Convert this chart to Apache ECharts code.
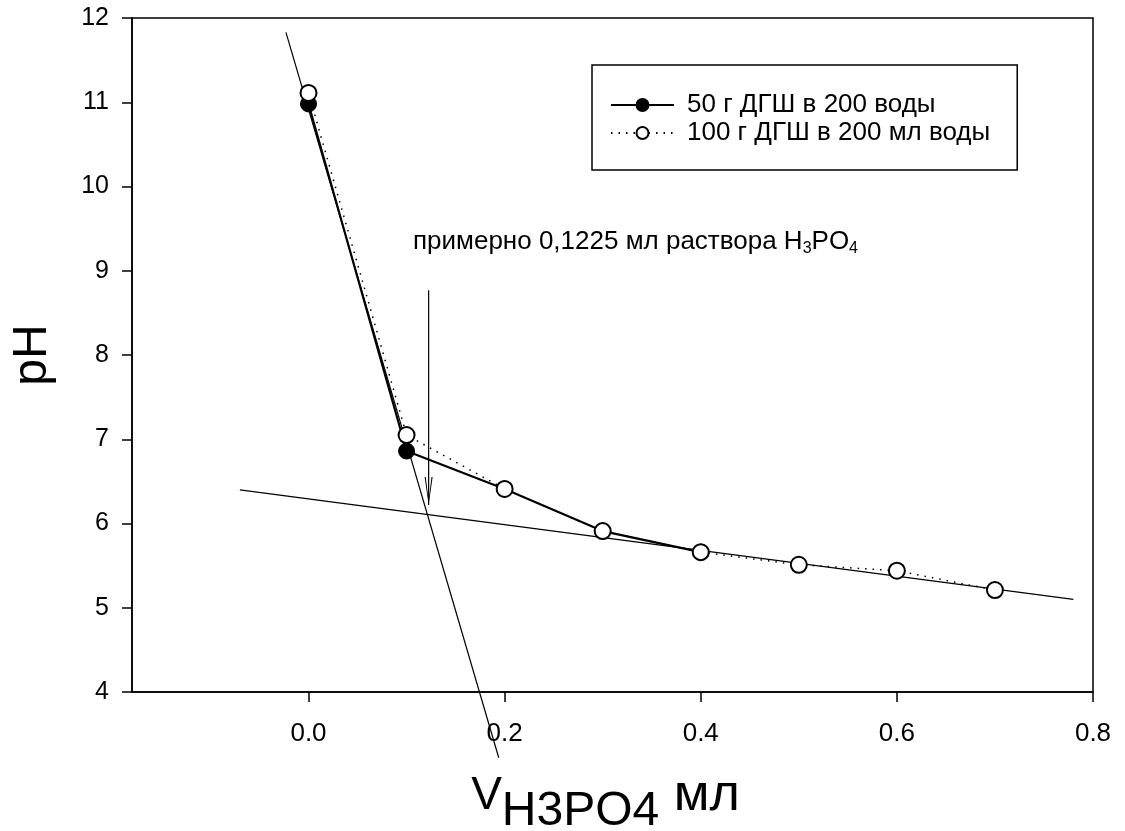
<!DOCTYPE html>
<html>
<head>
<meta charset="utf-8">
<script src="https://cdn.jsdelivr.net/npm/echarts@6/dist/echarts.min.js"></script>
<style>
  html, body { margin: 0; padding: 0; background: #fff; }
  #chart { width: 1125px; height: 831px; }
</style>
</head>
<body>
<div id="chart"></div>
<script>
// объём H3PO4, мл
const volumes = [0, 0.1, 0.2, 0.3, 0.4, 0.5, 0.6, 0.7];
// pH для 50 г ДГШ (точки до 0.4 мл)
const ph50 = [10.98, 6.86, 6.41, 5.91, 5.66];
// pH для 100 г ДГШ
const ph100 = [11.11, 7.05, 6.41, 5.91, 5.66, 5.51, 5.44, 5.21];
// касательные
const steepLine = [[-0.023, 11.83], [0.194, 3.22]];
const flatLine = [[-0.070, 6.40], [0.780, 5.10]];
// стрелка на 0,1225 мл
const arrowX = 0.1225;
const arrowY = [8.77, 6.22];
const xTicks = [0, 0.2, 0.4, 0.6, 0.8];
const names = ['50 г ДГШ в 200 воды', '100 г ДГШ в 200 мл воды'];

const FONT = "'Liberation Sans', Arial, sans-serif";
// открытый наконечник стрелки (тонкая галочка)
const ARROW_HEAD = 'path://M0,0 L5,28 L10,0 L8.6,0 L5,23 L1.4,0 Z';

const chart = echarts.init(document.getElementById('chart'));

const option = {
  backgroundColor: '#fff',
  animation: false,
  textStyle: { fontFamily: FONT, color: '#000' },
  grid: {
    left: 132, right: 32, top: 18, bottom: 139,
    containLabel: false,
    outerBoundsMode: 'none',
    show: true,
    borderColor: '#000',
    borderWidth: 1.5
  },
  legend: {
    data: names,
    orient: 'vertical',
    left: 592,
    top: 65,
    padding: [27, 27, 24, 18],
    itemWidth: 63,
    itemHeight: 15,
    itemGap: 2,
    borderColor: '#000',
    borderWidth: 1.5,
    textStyle: { fontSize: 26, color: '#000', fontFamily: FONT, padding: [0, 0, 0, 8] }
  },
  xAxis: {
    type: 'value',
    min: -0.18,
    max: 0.8,
    name: '{v|V}{s|H3PO4}{m| мл}',
    nameLocation: 'middle',
    nameGap: 78,
    nameTextStyle: {
      rich: {
        v: { fontSize: 46, lineHeight: 52, fontFamily: FONT, color: '#000' },
        s: { fontSize: 48, lineHeight: 52, padding: [32, 0, 0, 0], fontFamily: FONT, color: '#000' },
        m: { fontSize: 52, lineHeight: 52, padding: [0, 14, 0, 0], fontFamily: FONT, color: '#000' }
      }
    },
    splitLine: { show: false },
    axisLine: { onZero: false, lineStyle: { color: '#000', width: 1.5 } },
    axisTick: { customValues: xTicks, inside: false, length: 10, lineStyle: { color: '#000', width: 1.5 } },
    axisLabel: {
      customValues: xTicks,
      margin: 29,
      fontSize: 26,
      color: '#000',
      fontFamily: FONT,
      formatter: v => v.toFixed(1)
    }
  },
  yAxis: {
    type: 'value',
    min: 4,
    max: 12,
    interval: 1,
    name: 'pH',
    nameLocation: 'middle',
    nameRotate: 90,
    nameGap: 75,
    nameTextStyle: { fontSize: 48, color: '#000', fontFamily: FONT },
    splitLine: { show: false },
    axisLine: { onZero: false, lineStyle: { color: '#000', width: 1.5 } },
    axisTick: { inside: false, length: 10, lineStyle: { color: '#000', width: 1.5 } },
    axisLabel: { margin: 23, fontSize: 25, color: '#000', fontFamily: FONT }
  },
  graphic: [{
    type: 'text',
    left: 413,
    top: 229,
    style: {
      text: '{a|примерно 0,1225 мл раствора H}{s|3}{a|PO}{s|4}',
      rich: {
        a: { fontSize: 26, lineHeight: 30, fontFamily: FONT, fill: '#000' },
        s: { fontSize: 16, lineHeight: 16, verticalAlign: 'bottom', fontFamily: FONT, fill: '#000' }
      }
    }
  }],
  series: [
    {
      type: 'line',
      data: steepLine,
      clip: false,
      symbol: 'none',
      silent: true,
      lineStyle: { color: '#000', width: 1.2 },
      z: 1
    },
    {
      type: 'line',
      data: flatLine,
      clip: false,
      symbol: 'none',
      silent: true,
      lineStyle: { color: '#000', width: 1.2 },
      z: 1
    },
    {
      type: 'line',
      data: [
        { value: [arrowX, arrowY[0]], symbol: 'none' },
        { value: [arrowX, arrowY[1]], symbol: ARROW_HEAD, symbolSize: [8, 28], symbolOffset: [0, '-50%'] }
      ],
      showSymbol: true,
      silent: true,
      itemStyle: { color: '#000' },
      lineStyle: { color: '#000', width: 1.2 },
      z: 1
    },
    {
      name: names[0],
      type: 'line',
      data: ph50.map((v, i) => [volumes[i], v]),
      symbol: 'circle',
      symbolSize: 16,
      itemStyle: { color: '#000', borderColor: '#000', borderWidth: 1 },
      lineStyle: { color: '#000', width: 2.2 },
      z: 3
    },
    {
      name: names[1],
      type: 'line',
      data: ph100.map((v, i) => [volumes[i], v]),
      symbol: 'circle',
      symbolSize: 16,
      itemStyle: { color: '#fff', borderColor: '#000', borderWidth: 2 },
      lineStyle: { color: '#000', width: 1.5, type: [1.5, 6] },
      z: 4
    }
  ]
};

chart.setOption(option);
</script>
</body>
</html>
